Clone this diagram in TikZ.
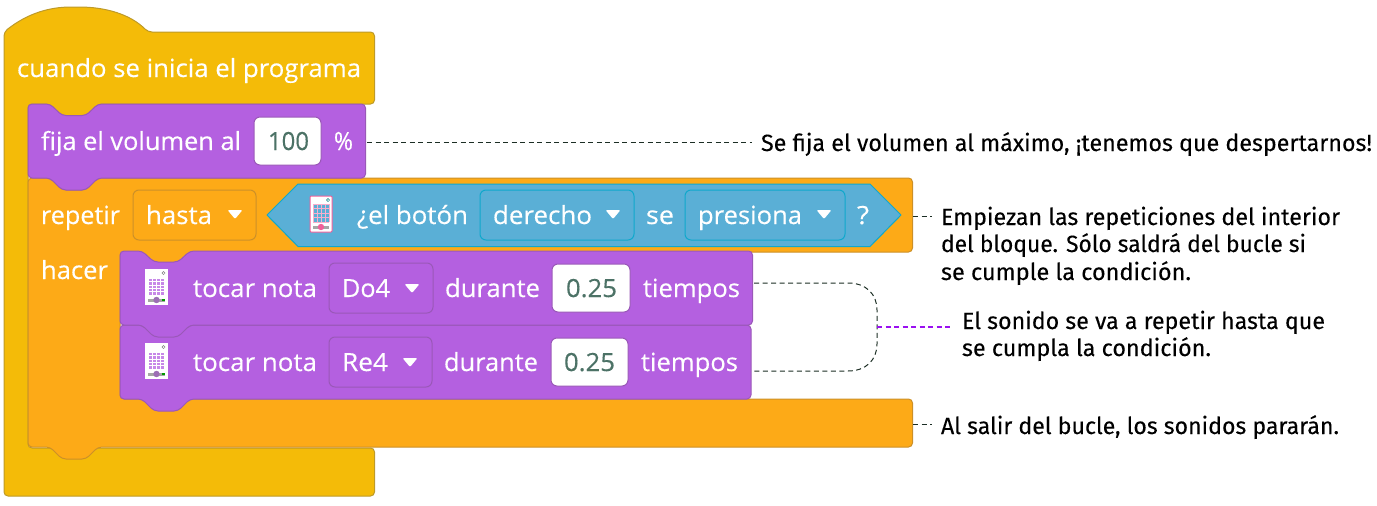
\documentclass[tikz,border=0pt]{standalone}
\usepackage{graphicx}
\usepackage{fontspec}
\setmainfont[FakeBold=0.3]{Open Sans}
\newfontfamily\notefont[FakeBold=0.12]{Fira Sans}
\definecolor{yel}{HTML}{F4BB08}
\definecolor{yelE}{HTML}{BE9A28}
\definecolor{ora}{HTML}{FDAA17}
\definecolor{oraE}{HTML}{CC9028}
\definecolor{pur}{HTML}{B460E0}
\definecolor{purE}{HTML}{9A58B8}
\definecolor{blu}{HTML}{5AAFD6}
\definecolor{bluE}{HTML}{10A8CC}
\definecolor{numc}{HTML}{4C7266}
\definecolor{pinkc}{HTML}{F0609A}
\definecolor{leadc}{HTML}{9A10F0}
\definecolor{leadk}{HTML}{1C2E24}
\newcommand{\bt}[2]{\resizebox{#1pt}{\height}{\fontsize{25}{25}\selectfont #2}}
\newcommand{\nt}[2]{\resizebox{#1pt}{\height}{\notefont\fontsize{23.5}{23.5}\selectfont #2}}
\newcommand{\pblock}[5]{%
  \draw[purblock] (#1,#3) -- (#5,#3) -- (#5+12,#3+11) -- (#5+36,#3+11) -- (#5+48,#3) -- (#2,#3) -- (#2,#4)
   -- (#5+48,#4) -- (#5+36,#4+12) -- (#5+12,#4+12) -- (#5,#4) -- (#1,#4) -- cycle;}
\newcommand{\caretat}[2]{\fill[white,rounded corners=1.2pt] (#1-7.5,#2-4) -- (#1+7.5,#2-4) -- (#1,#2+5) -- cycle;}
\newcommand{\gridicon}[2]{\begin{scope}[shift={(#1,#2)}]
  \fill[white] (0,0) rectangle (23,36);
  \fill[pur!75] (3.5,9) rectangle (19.5,26);
  \foreach \i in {0,...,4}{\draw[white,line width=.5pt] (3.5+\i*4,9) -- (3.5+\i*4,26);}
  \foreach \i in {0,...,5}{\draw[white,line width=.5pt] (3.5,9+\i*3.4) -- (19.5,9+\i*3.4);}
  \fill[gray!70] (3,29.5) rectangle (20,32.5);
  \fill[pur!55!gray] (11.5,31) circle (3.2);
  \fill[green!60!black] (17,30) rectangle (20,32);
  \draw[gray,line width=.5pt] (18.5,4) circle (1.6);
\end{scope}}
\tikzset{
  base/.style={line width=1pt,rounded corners=4pt,line join=round},
  purblock/.style={base,fill=pur,draw=purE},
  orablock/.style={base,fill=ora,draw=oraE},
  yelblock/.style={base,fill=yel,draw=yelE},
  field/.style={line width=1pt,rounded corners=6pt},
  txt/.style={anchor=base west,inner sep=0pt,outer sep=0pt,text=white},
  num/.style={anchor=base west,inner sep=0pt,outer sep=0pt,text=numc},
  note/.style={anchor=base west,inner sep=0pt,outer sep=0pt,text=black},
  leader/.style={line width=1pt,dash pattern=on 5pt off 3.5pt,draw=leadk},
  leadp/.style={line width=1.3pt,dash pattern=on 5pt off 3.5pt,draw=leadc},
}
\begin{document}
\begin{tikzpicture}[x=1pt,y=-1pt]
\useasboundingbox (0,0) rectangle (1377,506);
% hat block
\draw[yelblock] (4,32) .. controls (28,13) and (50,7) .. (75,7) .. controls (105,7) and (130,14) .. (148,32)
  -- (374.5,32) -- (374.5,104) -- (98,104) -- (86,116) -- (62,116) -- (50,104) -- (28,104) -- (28,448) -- (374.5,448) -- (374.5,496) -- (4,496) -- cycle;
% repeat block
\draw[orablock] (28,178) -- (50,178) -- (62,190) -- (86,190) -- (98,178) -- (912.5,178) -- (912.5,252) -- (190,252) -- (178,263.5) -- (154,263.5) -- (142,252) -- (120,252)
  -- (120,399) -- (912.5,399) -- (912.5,447) -- (98,447) -- (86,459) -- (62,459) -- (50,447) -- (28,447) -- cycle;
% volume block
\draw[purblock] (28,104) -- (50,104) -- (62,115.5) -- (86,115.5) -- (98,104) -- (365.5,104) -- (365.5,178)
  -- (98,178) -- (86,190) -- (62,190) -- (50,178) -- (28,178) -- cycle;
\draw[field,fill=white,draw=purE] (254,117) rectangle (321,165);
% note blocks
\pblock{120}{751}{325}{399}{142}
\pblock{120}{752.5}{251}{325}{142}
\draw[field,fill=pur,draw=purE] (329,263) rectangle (433,313);
\draw[field,fill=pur,draw=purE] (329,337) rectangle (432,387);
\draw[field,fill=white,draw=purE] (552,264) rectangle (630,312);
\draw[field,fill=white,draw=purE] (551,338) rectangle (628,386);
% condition
\draw[field,fill=ora,draw=oraE] (133,190) rectangle (256,240);
\draw[line width=1pt,fill=blu,draw=bluE,line join=round] (267,215) -- (298,184) -- (870,184) -- (901,215) -- (870,246.5) -- (298,246.5) -- cycle;
\draw[field,fill=blu,draw=bluE] (480,190) rectangle (634,240);
\draw[field,fill=blu,draw=bluE] (685,190) rectangle (845,240);
% phone icon
\begin{scope}[shift={(310,196)}]
  \draw[fill=white,draw=pinkc,line width=1pt,rounded corners=1pt] (0,0) rectangle (22,36);
  \fill[blu] (3,8) rectangle (19,26);
  \foreach \i in {0,...,4}{\draw[pinkc!50,line width=.4pt] (3+\i*4,8) -- (3+\i*4,26); \draw[pinkc!50,line width=.4pt] (3,8+\i*4.5) -- (19,8+\i*4.5);}
  \fill[gray!70] (3,29.5) rectangle (19,32.5);
  \fill[pinkc] (11,31) circle (3.2);
  \draw[teal,line width=.5pt] (18,4) circle (1.6);
\end{scope}
\gridicon{145}{269}
\gridicon{145}{343}
% carets
\caretat{235}{214}
\caretat{613}{214}
\caretat{824}{214}
\caretat{412}{288}
\caretat{410}{362}
% block text
\node[txt] (tStart) at (17,77) {\bt{344}{cuando se inicia el programa}};
\node[txt] (tVol) at (41,150) {\bt{200}{fija el volumen al}};
\node[num] (tHundred) at (268,150) {\bt{41}{100}};
\node[txt] (tPct) at (334,150) {\bt{19}{\%}};
\node[txt] (tRep) at (41,224) {\bt{79}{repetir}};
\node[txt] (tHasta) at (146,224) {\bt{66}{hasta}};
\node[txt] (tBtn) at (357,224) {\bt{111}{¿el botón}};
\node[txt] (tDer) at (493,224) {\bt{99}{derecho}};
\node[txt] (tSe) at (646,224) {\bt{28}{se}};
\node[txt] (tPres) at (698,224) {\bt{104}{presiona}};
\node[txt] (tQ) at (857,224) {\bt{12}{?}};
\node[txt] (tHacer) at (41,279) {\bt{67}{hacer}};
\node[txt] (tTocA) at (193,297) {\bt{124}{tocar nota}};
\node[txt] (tDo) at (342,297) {\bt{48}{Do4}};
\node[txt] (tDurA) at (445,297) {\bt{95}{durante}};
\node[num] (tNumA) at (566,297) {\bt{51}{0.25}};
\node[txt] (tTieA) at (643,297) {\bt{97}{tiempos}};
\node[txt] (tTocB) at (193,371) {\bt{124}{tocar nota}};
\node[txt] (tRe) at (342,371) {\bt{46}{Re4}};
\node[txt] (tDurB) at (444,371) {\bt{94}{durante}};
\node[num] (tNumB) at (564,371) {\bt{51}{0.25}};
\node[txt] (tTieB) at (641,371) {\bt{97}{tiempos}};
% notes
\node[note] (nA) at (761,151) {\nt{611}{Se fija el volumen al máximo, ¡tenemos que despertarnos!}};
\node[note] (nB1) at (941,225) {\nt{399}{Empiezan las repeticiones del interior}};
\node[note] (nB2) at (941,252) {\nt{365}{del bloque. Sólo saldrá del bucle si}};
\node[note] (nB3) at (941,280) {\nt{250}{se cumple la condición.}};
\node[note] (nC1) at (962,329) {\nt{363}{El sonido se va a repetir hasta que}};
\node[note] (nC2) at (962,356) {\nt{249}{se cumpla la condición.}};
\node[note] (nD) at (941,434) {\nt{398}{Al salir del bucle, los sonidos pararán.}};
% connector ends
\coordinate (volEnd) at (367,142);
\coordinate (volNote) at (752,142);
\coordinate (repEnd) at (913,216);
\coordinate (repNote) at (932,216);
\coordinate (noteA) at (754,283);
\coordinate (noteB) at (754,371);
\coordinate (join) at (877,327);
\coordinate (sndNote) at (950,327);
\coordinate (outEnd) at (913,424);
\coordinate (outNote) at (932,424);
\draw[leader] (volEnd) -- (volNote);
\draw[leader] (repEnd) -- (repNote);
\draw[leader] (outEnd) -- (outNote);
\draw[leader] (noteA) -- (848,283) .. controls (866,283) and (877,294) .. (877,310) -- (join) -- (877,344) .. controls (877,360) and (866,371) .. (848,371) -- (noteB);
\draw[leadp] (join) -- (sndNote);
\end{tikzpicture}
\end{document}
